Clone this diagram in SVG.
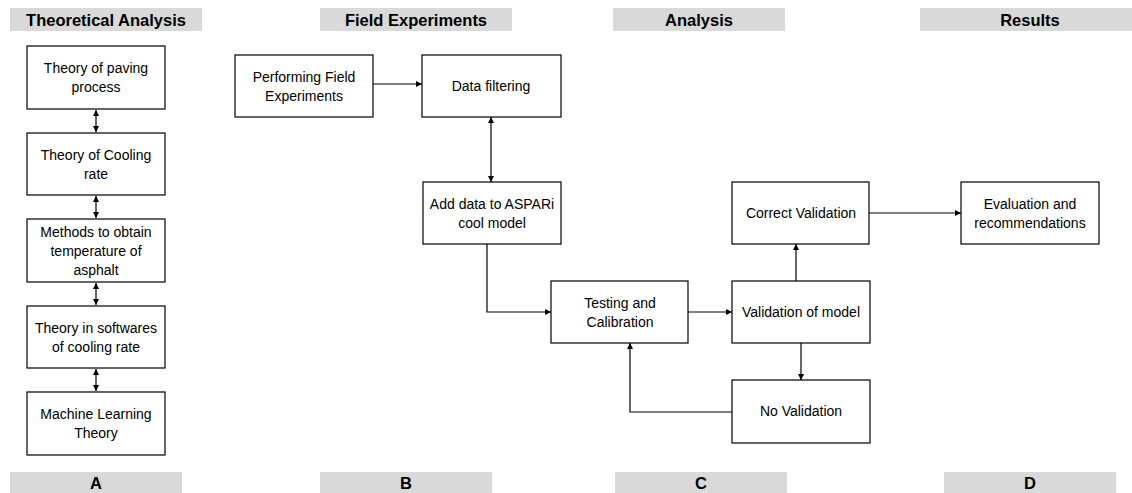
<svg xmlns="http://www.w3.org/2000/svg" width="1132" height="493" viewBox="0 0 1132 493">
<defs>
<style>
.bar{fill:#d9d9d9}
.h{font-family:"Liberation Sans",Arial,sans-serif;font-weight:bold;font-size:16.5px;fill:#000;text-anchor:middle}
.box{fill:#fff;stroke:#000;stroke-width:1.2}
.t{font-family:"Liberation Sans",Arial,sans-serif;font-size:14px;fill:#000;text-anchor:middle}
.c{fill:none;stroke:#000;stroke-width:1.2}
</style>
<marker id="ah" viewBox="0 0 10 10" refX="10" refY="5" markerWidth="6" markerHeight="6" orient="auto-start-reverse" markerUnits="userSpaceOnUse"><path d="M0,0 L10,5 L0,10 z" fill="#000"/></marker>
</defs>
<rect width="1132" height="493" fill="#fff"/>
<g id="headers">
<rect class="bar" x="10" y="8" width="192" height="23"/><text class="h" x="106" y="25.5">Theoretical Analysis</text>
<rect class="bar" x="320" y="8" width="192" height="23"/><text class="h" x="416" y="25.5">Field Experiments</text>
<rect class="bar" x="613" y="8" width="172" height="23"/><text class="h" x="699" y="25.5">Analysis</text>
<rect class="bar" x="920" y="8" width="212" height="23"/><text class="h" x="1030" y="25.5">Results</text>
</g>
<g id="footers">
<rect class="bar" x="10" y="472" width="172" height="21"/><text class="h" x="96" y="489">A</text>
<rect class="bar" x="320" y="472" width="172" height="21"/><text class="h" x="406" y="489">B</text>
<rect class="bar" x="615" y="472" width="172" height="21"/><text class="h" x="701" y="489">C</text>
<rect class="bar" x="944" y="472" width="172" height="21"/><text class="h" x="1030" y="489">D</text>
</g>
<g id="connectors">
<line class="c" x1="96" y1="110" x2="96" y2="132" marker-start="url(#ah)" marker-end="url(#ah)"/>
<line class="c" x1="96" y1="196" x2="96" y2="218" marker-start="url(#ah)" marker-end="url(#ah)"/>
<line class="c" x1="96" y1="283" x2="96" y2="305" marker-start="url(#ah)" marker-end="url(#ah)"/>
<line class="c" x1="96" y1="369" x2="96" y2="391" marker-start="url(#ah)" marker-end="url(#ah)"/>
<line class="c" x1="373" y1="84" x2="422" y2="84" marker-end="url(#ah)"/>
<line class="c" x1="491" y1="117" x2="491" y2="182" marker-start="url(#ah)" marker-end="url(#ah)"/>
<polyline class="c" points="487,244 487,312 551,312" marker-end="url(#ah)"/>
<line class="c" x1="688" y1="312" x2="732" y2="312" marker-end="url(#ah)"/>
<line class="c" x1="801" y1="343" x2="801" y2="380" marker-end="url(#ah)"/>
<polyline class="c" points="732,412 630,412 630,343" marker-end="url(#ah)"/>
<line class="c" x1="796" y1="281" x2="796" y2="244" marker-end="url(#ah)"/>
<line class="c" x1="869" y1="213" x2="961" y2="213" marker-end="url(#ah)"/>
</g>
<g id="n-paving"><rect class="box" x="27" y="46" width="138" height="63"/><text class="t" x="96" y="73">Theory of paving</text><text class="t" x="96" y="92">process</text></g>
<g id="n-cooling"><rect class="box" x="27" y="133" width="138" height="62"/><text class="t" x="96" y="160">Theory of Cooling</text><text class="t" x="96" y="179">rate</text></g>
<g id="n-methods"><rect class="box" x="27" y="219" width="138" height="63"/><text class="t" x="96" y="237">Methods to obtain</text><text class="t" x="96" y="256">temperature of</text><text class="t" x="96" y="275">asphalt</text></g>
<g id="n-software"><rect class="box" x="27" y="306" width="138" height="62"/><text class="t" x="96" y="333">Theory in softwares</text><text class="t" x="96" y="352">of cooling rate</text></g>
<g id="n-ml"><rect class="box" x="27" y="392" width="138" height="63"/><text class="t" x="96" y="419">Machine Learning</text><text class="t" x="96" y="438">Theory</text></g>
<g id="n-perform"><rect class="box" x="235" y="55" width="138" height="62"/><text class="t" x="304" y="82">Performing Field</text><text class="t" x="304" y="101">Experiments</text></g>
<g id="n-filter"><rect class="box" x="422" y="55" width="139" height="62"/><text class="t" x="491" y="91">Data filtering</text></g>
<g id="n-add"><rect class="box" x="423" y="182" width="138" height="62"/><text class="t" x="492" y="209">Add data to ASPARi</text><text class="t" x="492" y="228">cool model</text></g>
<g id="n-testing"><rect class="box" x="551" y="281" width="137" height="62"/><text class="t" x="620" y="308">Testing and</text><text class="t" x="620" y="327">Calibration</text></g>
<g id="n-validation"><rect class="box" x="732" y="281" width="138" height="62"/><text class="t" x="801" y="317">Validation of model</text></g>
<g id="n-novalid"><rect class="box" x="732" y="380" width="138" height="63"/><text class="t" x="801" y="416">No Validation</text></g>
<g id="n-correct"><rect class="box" x="732" y="182" width="137" height="62"/><text class="t" x="801" y="218">Correct Validation</text></g>
<g id="n-eval"><rect class="box" x="961" y="182" width="138" height="62"/><text class="t" x="1030" y="209">Evaluation and</text><text class="t" x="1030" y="228">recommendations</text></g>
</svg>
